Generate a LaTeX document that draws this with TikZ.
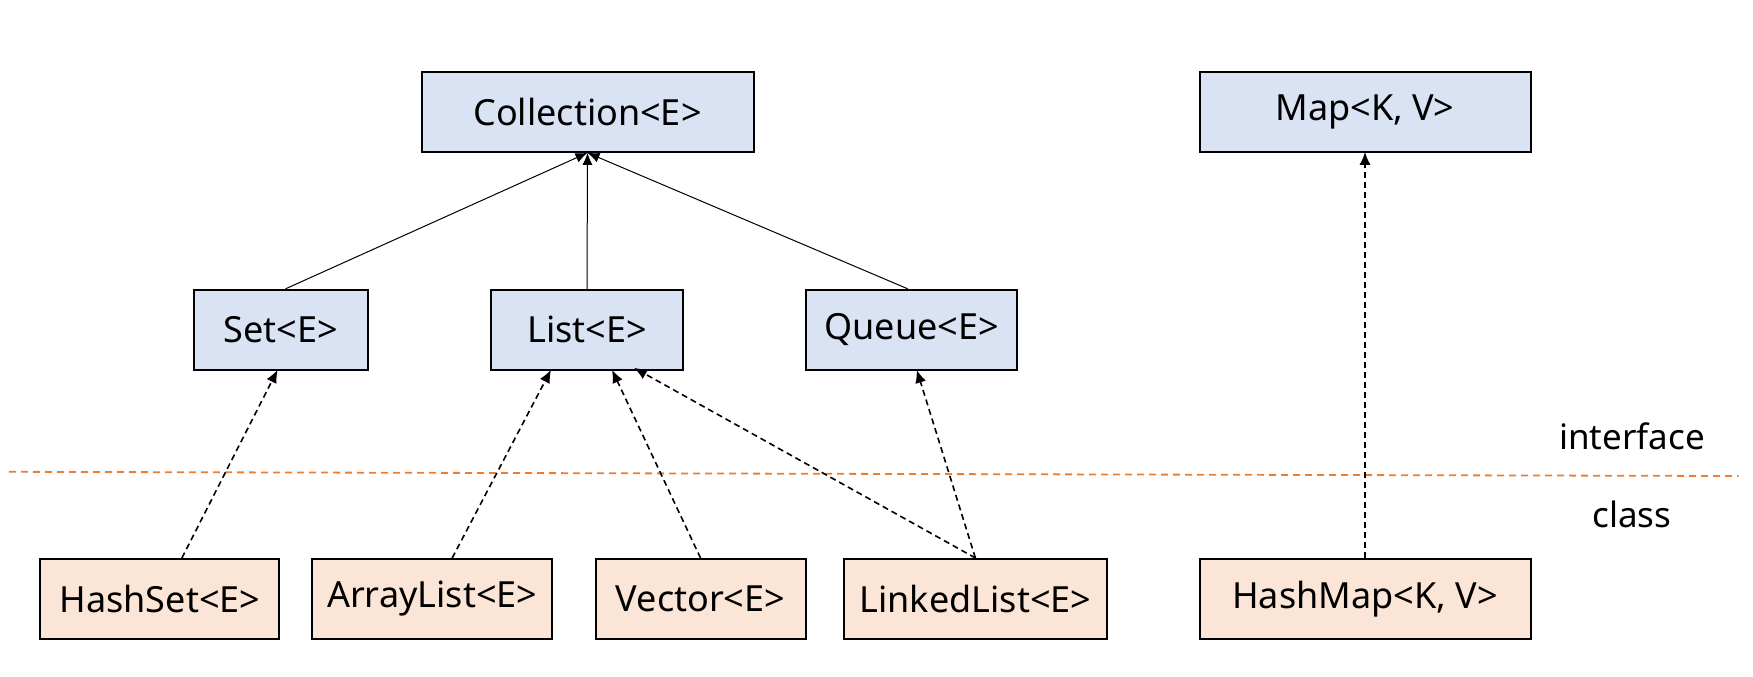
\documentclass[tikz,border=0pt]{standalone}
\usepackage{fontspec}
\setmainfont{Noto Sans}
\usetikzlibrary{arrows.meta}
\definecolor{ifill}{HTML}{DAE3F3}
\definecolor{cfill}{HTML}{FBE5D6}
\definecolor{sep}{HTML}{ED7D31}
\tikzset{
  box/.style={draw=black, line width=2pt, minimum height=80pt, inner sep=0pt, font=\fontsize{36}{42}\selectfont},
  ibox/.style={box, fill=ifill},
  cbox/.style={box, fill=cfill},
  ext/.style={draw=black, line width=1pt, -{Latex[length=12pt,width=10pt]}},
  impl/.style={draw=black, line width=1.6pt, dash pattern=on 6pt off 4pt, -{Latex[length=13pt,width=11pt]}},
  sepline/.style={draw=sep, line width=1.8pt, dash pattern=on 7pt off 5pt},
  lbl/.style={font=\fontsize{35}{42}\selectfont, inner sep=0pt}
}
\begin{document}
\begin{tikzpicture}[x=1pt,y=-1pt]
\useasboundingbox (0,0) rectangle (1753,677);
\node[ibox, minimum width=332pt] (coll) at (587.5,111.8) {Collection<E>};
\node[ibox, minimum width=331pt] (map) at (1365,111.8) {Map<K, V>};
\node[ibox, minimum width=174pt] (set) at (280.6,329.8) {Set<E>};
\node[ibox, minimum width=192pt] (list) at (587,329.8) {List<E>};
\node[ibox, minimum width=211pt] (queue) at (911.7,329.8) {Queue<E>};
\node[cbox, minimum width=239pt] (hset) at (159.9,599) {HashSet<E>};
\node[cbox, minimum width=240pt] (alist) at (432.2,599) {ArrayList<E>};
\node[cbox, minimum width=210pt] (vec) at (700.5,599) {Vector<E>};
\node[cbox, minimum width=263pt] (llist) at (975.4,599) {LinkedList<E>};
\node[cbox, minimum width=331pt] (hmap) at (1365,599) {HashMap<K, V>};
\coordinate (sepL) at (9,471.8);
\coordinate (sepR) at (1738.6,476);
\draw[sepline] (sepL) -- (sepR);
\node[lbl] (iface) at (1632,436) {interface};
\node[lbl] (cls) at (1632,514) {class};
\draw[ext] ([xshift=5pt]set.north) -- (coll.south);
\draw[ext] (list.north) -- (coll.south);
\draw[ext] ([xshift=-4pt]queue.north) -- (coll.south);
\draw[impl] ([xshift=22pt]hset.north) -- ([xshift=-3pt,yshift=1pt]set.south);
\draw[impl] ([xshift=20pt]alist.north) -- ([xshift=61pt,yshift=1pt]list.south west);
\draw[impl] (vec.north) -- ([xshift=122pt,yshift=1pt]list.south west);
\draw[impl] (llist.north) -- ([xshift=144pt,yshift=3pt]list.south west);
\draw[impl] (llist.north) -- ([xshift=5pt,yshift=1pt]queue.south);
\draw[impl] (hmap.north) -- ([yshift=1pt]map.south);
\end{tikzpicture}
\end{document}
